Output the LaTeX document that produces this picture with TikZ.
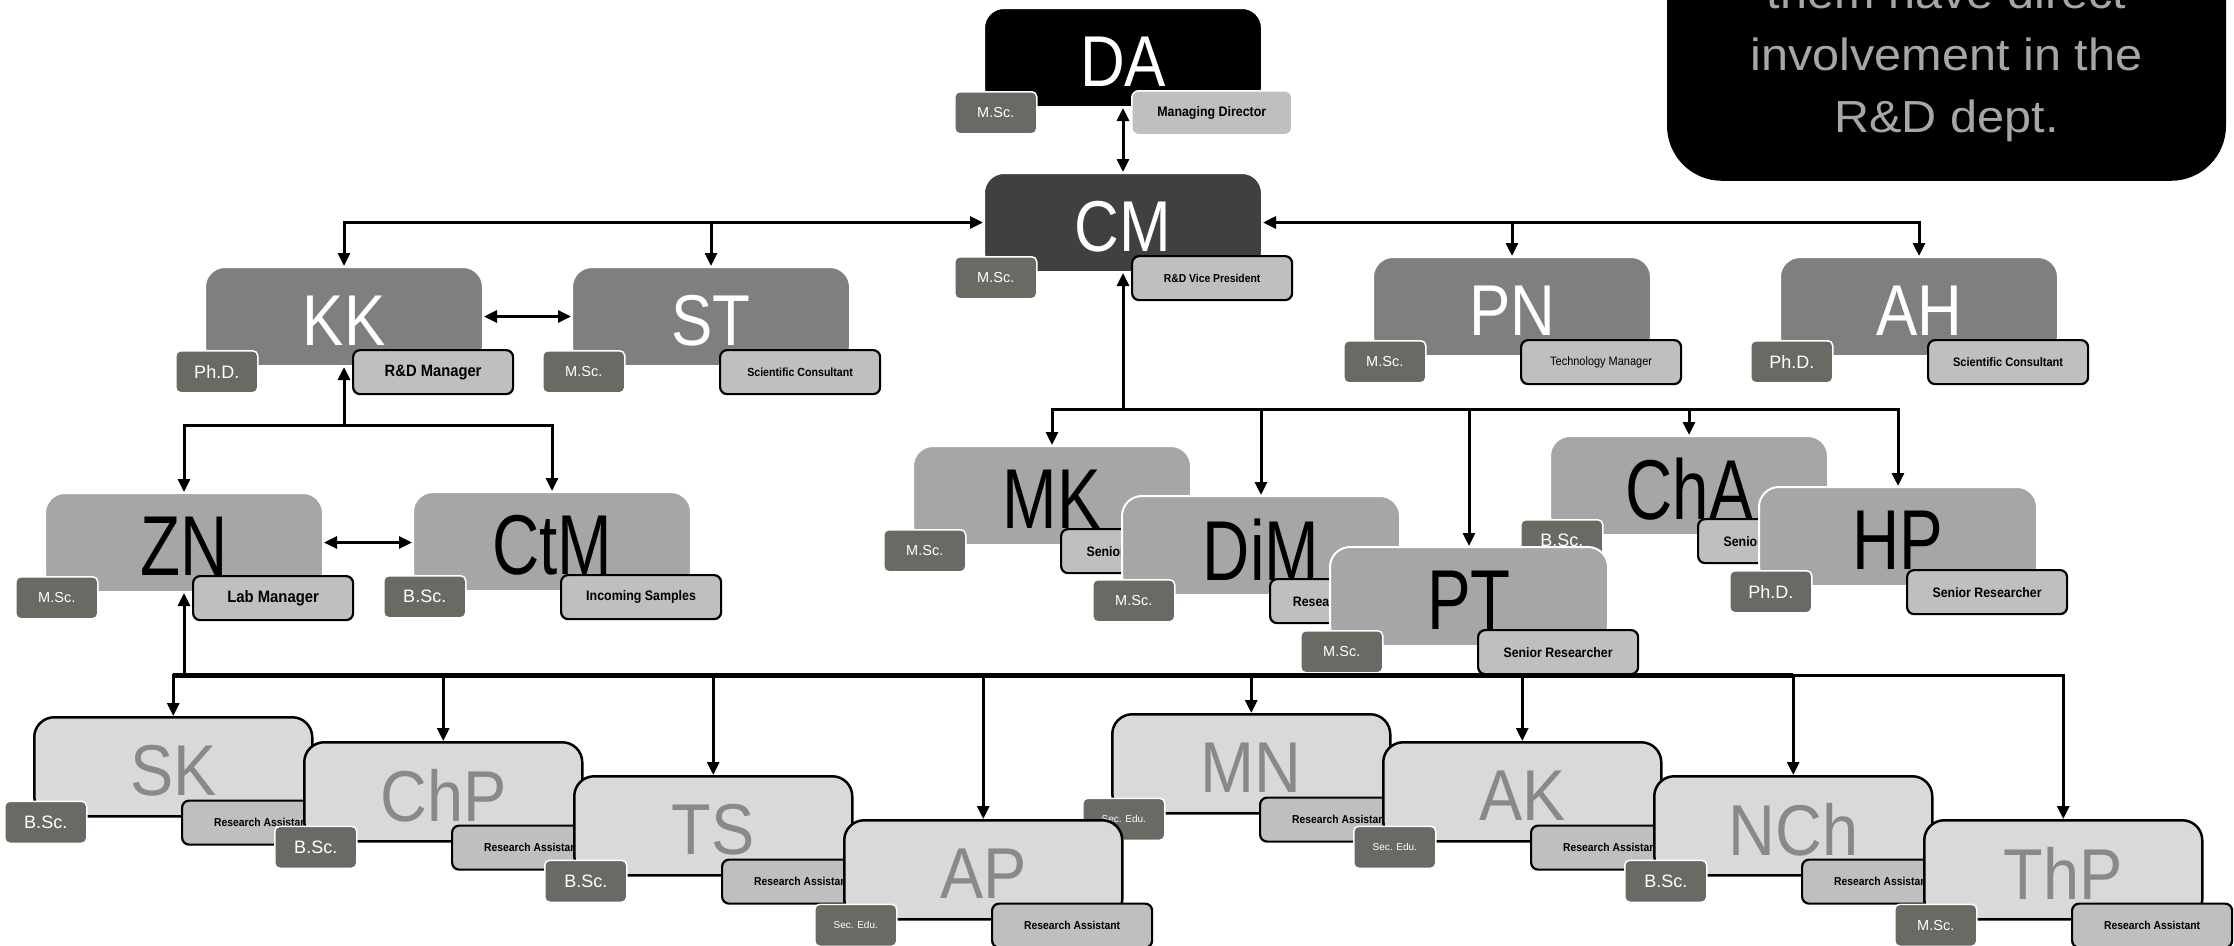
\documentclass[tikz,border=0pt]{standalone}
\usepackage{fontspec}
\setmainfont{Liberation Sans}
\newfontfamily\nameW[FakeStretch=0.86]{Liberation Sans}
\newfontfamily\nameK[FakeStretch=0.77]{Liberation Sans}
\newfontfamily\nameG[FakeStretch=0.9]{Liberation Sans}
\newfontfamily\tagF{Liberation Sans}
\newfontfamily\roleF[FakeStretch=0.9]{Liberation Sans}
\newfontfamily\noteF[FakeStretch=1.08]{Liberation Sans}
\usetikzlibrary{arrows.meta}
\definecolor{cmgray}{HTML}{404040}
\definecolor{upgray}{HTML}{7F7F7F}
\definecolor{midgray}{HTML}{A6A6A6}
\definecolor{palegray}{HTML}{D9D9D9}
\definecolor{tagc}{HTML}{6A6A64}
\definecolor{rolec}{HTML}{BFBFBF}
\definecolor{nmgray}{HTML}{898989}
\definecolor{notegray}{HTML}{A6A6A6}
\newcommand\member[8]{%
  \node[box#4] (#1) at (#2,#3) {};
  \node[nm#4] (#1-n) at ([yshift=-4pt]#1.center) {#5};
  \node[tag] (#1-d) at ([xshift=-29pt,yshift=17pt]#1.south west) {#6};
  \node[role,#8] (#1-r) at ([xshift=148pt,yshift=18pt]#1.south west) {#7};
}
\newcommand\rb[2]{{\fontsize{#1}{#1}\selectfont\bfseries #2}}
\newcommand\rr[2]{{\fontsize{#1}{#1}\selectfont #2}}
\newcommand\dg[2]{{\fontsize{#1}{#1}\selectfont #2}}
\begin{document}
\begin{tikzpicture}[x=1pt,y=-1pt,
  conn/.style={line width=3pt,-{Triangle[length=13pt,width=12pt]}},
  dconn/.style={line width=3pt,{Triangle[length=13pt,width=12pt]}-{Triangle[length=13pt,width=12pt]}},
  box/.style={rounded corners=20pt,minimum width=278pt,minimum height=99pt,inner sep=0pt,draw=white,line width=2pt,anchor=north west},
  boxA/.style={box,fill=black},
  boxB/.style={box,fill=cmgray},
  boxC/.style={box,fill=upgray},
  boxD/.style={box,fill=midgray},
  boxE/.style={box,fill=palegray,draw=black,line width=2.5pt},
  nmA/.style={inner sep=0pt,font=\nameW\fontsize{72}{72}\selectfont,text=white},
  nmB/.style={nmA},
  nmC/.style={nmA},
  nmD/.style={inner sep=0pt,font=\nameK\fontsize{85}{85}\selectfont,text=black},
  nmE/.style={inner sep=0pt,font=\nameG\fontsize{72}{72}\selectfont,text=nmgray},
  tag/.style={anchor=north west,minimum width=82pt,minimum height=42pt,inner sep=0pt,rounded corners=5pt,fill=tagc,draw=white,line width=1.5pt,text=white,font=\tagF},
  role/.style={anchor=north west,minimum width=160pt,minimum height=44pt,inner sep=0pt,rounded corners=7pt,fill=rolec,draw=black,line width=2.2pt,font=\roleF},
  note/.style={inner sep=0pt,anchor=base,font=\noteF\fontsize{45}{45}\selectfont,text=notegray}
]
\useasboundingbox (0,0) rectangle (2234,945);
\fill[white] (0,0) rectangle (2234,945);
\clip (0,0) rectangle (2234,945);

% note box (top right)
\node[fill=black,rounded corners=55pt,minimum width=559pt,minimum height=300pt,inner sep=0pt,anchor=south] (notebox) at (1946.5,181) {};
\node[note] (note1) at (1946.5,8) {them have direct};
\node[note] (note2) at (1946.5,70) {involvement in the};
\node[note] (note3) at (1946.5,132) {R\&D dept.};

% top levels
\member{DA}{983}{7}{A}{DA}{\dg{14.5}{M.Sc.}}{\rb{13.8}{Managing Director}}{draw=white,line width=1.5pt}
\member{CM}{983}{172}{B}{CM}{\dg{14.5}{M.Sc.}}{\rb{11.5}{R\&D Vice President}}{}
\member{KK}{204}{266}{C}{KK}{\dg{18}{Ph.D.}}{\rb{16.4}{R\&D Manager}}{}
\member{ST}{571}{266}{C}{ST}{\dg{14.5}{M.Sc.}}{\rb{11.8}{Scientific Consultant}}{}
\member{PN}{1372}{256}{C}{PN}{\dg{14.5}{M.Sc.}}{\rr{12.2}{Technology Manager}}{}
\member{AH}{1779}{256}{C}{AH}{\dg{18}{Ph.D.}}{\rb{12.3}{Scientific Consultant}}{}

% middle level
\member{ZN}{44}{492}{D}{ZN}{\dg{14.5}{M.Sc.}}{\rb{16.5}{Lab Manager}}{}
\member{CtM}{412}{491}{D}{CtM}{\dg{18}{B.Sc.}}{\rb{13.8}{Incoming Samples}}{}
\member{MK}{912}{445}{D}{MK}{\dg{14.5}{M.Sc.}}{\rb{13.7}{Senior Researcher}}{}
\member{DiM}{1121}{495}{D}{DiM}{\dg{14.5}{M.Sc.}}{\rb{13.7}{Research Assistant}}{}
\member{ChA}{1549}{435}{D}{ChA}{\dg{18}{B.Sc.}}{\rb{13.7}{Senior Researcher}}{}
\member{HP}{1758}{486}{D}{HP}{\dg{18}{Ph.D.}}{\rb{13.7}{Senior Researcher}}{}
\member{PT}{1329}{546}{D}{PT}{\dg{14.5}{M.Sc.}}{\rb{13.7}{Senior Researcher}}{}

% bottom level
\member{SK}{33}{716}{E}{SK}{\dg{18}{B.Sc.}}{\rb{11.5}{Research Assistant}}{}
\member{ChP}{303}{741}{E}{ChP}{\dg{18}{B.Sc.}}{\rb{11.5}{Research Assistant}}{}
\member{TS}{573}{775}{E}{TS}{\dg{18}{B.Sc.}}{\rb{11.5}{Research Assistant}}{}
\member{MN}{1111}{713}{E}{MN}{\dg{10}{Sec. Edu.}}{\rb{11.5}{Research Assistant}}{}
\member{AP}{843}{819}{E}{AP}{\dg{10}{Sec. Edu.}}{\rb{11.5}{Research Assistant}}{}
\member{AK}{1382}{741}{E}{AK}{\dg{10}{Sec. Edu.}}{\rb{11.5}{Research Assistant}}{}
\member{NCh}{1653}{775}{E}{NCh}{\dg{18}{B.Sc.}}{\rb{11.5}{Research Assistant}}{}
\member{ThP}{1923}{819}{E}{ThP}{\dg{14.5}{M.Sc.}}{\rb{11.5}{Research Assistant}}{}

% connectors
\draw[dconn] (DA.south) -- (CM.north);
\draw[dconn] (KK.north) |- (CM.west);
\draw[conn] (ST.north |- CM.west) -- (ST.north);
\draw[dconn] (AH.north) |- (CM.east);
\draw[conn] (PN.north |- CM.east) -- (PN.north);
\draw[dconn] (KK.east) -- (ST.west);
\draw[dconn] (ZN.east) -- (CtM.west |- ZN.east);

\coordinate (kkbus) at (KK.south |- 0,425);
\draw[conn] (kkbus) -- (KK.south);
\draw[conn] (kkbus) -| (ZN.north);
\draw[conn] (kkbus) -| (CtM.north);

\coordinate (cmbus) at (CM.south |- 0,409);
\draw[conn] (cmbus) -- (CM.south);
\foreach \c in {MK,DiM,PT,ChA,HP} \draw[conn] (cmbus) -| (\c.north);

\coordinate (znbus) at (ZN.south |- 0,675);
\draw[conn] (znbus) -- (ZN.south);
\foreach \c in {SK,ChP,TS,AP,MN,AK,NCh,ThP} \draw[conn] (znbus) -| (\c.north);
\draw[line width=5pt] (SK.north |- znbus) -- (NCh.north |- znbus);
\end{tikzpicture}
\end{document}
